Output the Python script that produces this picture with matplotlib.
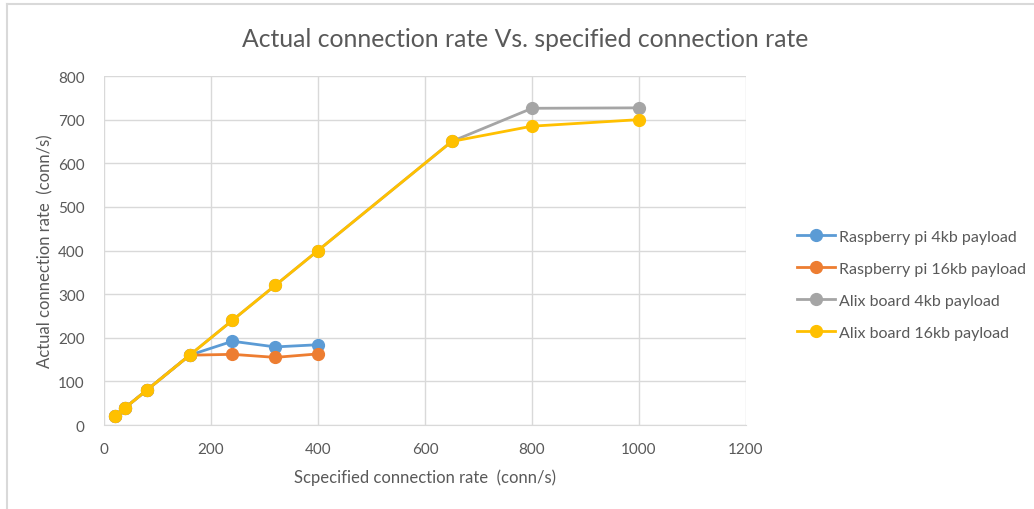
import matplotlib.pyplot as plt
from matplotlib.lines import Line2D

plt.rcParams['font.family'] = ['Lato', 'DejaVu Sans']

# Specified rate (x) and measured rate (y) per series
rpi_4kb_x = [20, 40, 80, 160, 240, 320, 400]
rpi_4kb_y = [20, 40, 80, 160, 192, 179, 184]
rpi_16kb_x = [20, 40, 80, 160, 240, 320, 400]
rpi_16kb_y = [20, 40, 80, 160, 162, 155, 163]
alix_4kb_x = [20, 40, 80, 160, 240, 320, 400, 650, 800, 1000]
alix_4kb_y = [20, 40, 80, 160, 240, 320, 400, 650, 726, 727]
alix_16kb_x = [20, 40, 80, 160, 240, 320, 400, 650, 800, 1000]
alix_16kb_y = [20, 40, 80, 160, 240, 320, 400, 650, 685, 700]

series = [
    ("Raspberry pi 4kb payload", rpi_4kb_x, rpi_4kb_y, "#5B9BD5"),
    ("Raspberry pi 16kb payload", rpi_16kb_x, rpi_16kb_y, "#ED7D31"),
    ("Alix board 4kb payload", alix_4kb_x, alix_4kb_y, "#A5A5A5"),
    ("Alix board 16kb payload", alix_16kb_x, alix_16kb_y, "#FFC000"),
]

fig = plt.figure(figsize=(10.34, 5.10), dpi=100)
ax = fig.add_axes([0.1006, 0.1647, 0.6209, 0.6843])

for i, (name, xs, ys, col) in enumerate(series):
    ax.plot(xs, ys, color=col, lw=2.0, marker='o', markersize=8.5,
            label=name, zorder=3 + i)

ax.set_xlim(0, 1200)
ax.set_ylim(0, 800)
ax.set_xticks(range(0, 1201, 200))
ax.set_yticks(range(0, 801, 100))
ax.grid(True, color="#D9D9D9", lw=1.0)
ax.set_axisbelow(True)
for s in ['top', 'right', 'left']:
    ax.spines[s].set_visible(False)
ax.spines['bottom'].set_color("#D9D9D9")
ax.tick_params(length=0, labelsize=11, colors="#595959")
ax.tick_params(axis='x', pad=12)
ax.tick_params(axis='y', pad=14)

ax.set_xlabel("Scpecified connection rate  (conn/s)", fontsize=12, color="#595959", labelpad=9)
ax.set_ylabel("Actual connection rate  (conn/s)", fontsize=12, color="#595959", labelpad=3)
fig.suptitle("Actual connection rate Vs. specified connection rate", fontsize=17.8,
             color="#595959", x=0.508, y=0.945)

leg = fig.legend(loc='center left', bbox_to_anchor=(0.757, 0.44), frameon=False,
                 fontsize=11.5, labelspacing=1.12, handlelength=2.4, handletextpad=0.2)
for t in leg.get_texts():
    t.set_color("#595959")

# chart area border (top and left edges only visible)
border = "#D9D9D9"
fig.add_artist(Line2D([7 / 1034, 1.0], [1 - 5 / 510, 1 - 5 / 510], transform=fig.transFigure,
                      color=border, lw=1.5))
fig.add_artist(Line2D([7 / 1034, 7 / 1034], [0.0, 1 - 5 / 510], transform=fig.transFigure,
                      color=border, lw=1.5))

fig.savefig("out.png", dpi=100)
